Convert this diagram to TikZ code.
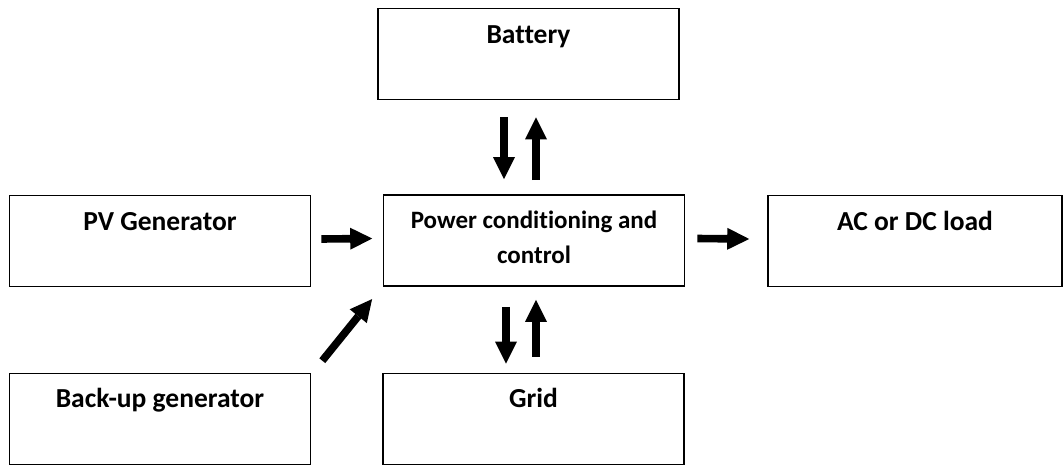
\documentclass[tikz,border=0pt]{standalone}
\usepackage{fontspec}
\setmainfont{Carlito}[Ligatures=NoCommon]
\usetikzlibrary{arrows.meta}
\begin{document}
\begin{tikzpicture}[x=1pt,y=-1pt,
  box/.style={draw,line width=1.6pt,inner sep=0pt,minimum width=301pt,minimum height=91pt},
  lbl/.style={font=\bfseries\fontsize{27.5}{32}\selectfont,anchor=base,inner sep=0pt},
  slbl/.style={lbl,font=\bfseries\fontsize{25}{30}\selectfont},
  bigarrow/.style={line width=7.6pt,-{Triangle[width=22pt,length=22pt,line width=0pt]}}]
\useasboundingbox (0,0) rectangle (1063,466);
\node[box] (bat)  at (528.5,54) {};
\node[box] (pv)   at (160,241) {};
\node[box] (pc)   at (534,240.5) {};
\node[box,minimum width=294pt] (load) at (915,241) {};
\node[box] (bug)  at (160,419) {};
\node[box] (grid) at (533.5,419) {};
\node[lbl] (tbat)  at ([yshift=-36pt]bat.north) {Battery};
\node[lbl] (tpv)   at ([yshift=-36pt]pv.north) {PV Generator};
\node[slbl] (tpc1)  at ([yshift=-34pt]pc.north) {Power conditioning and};
\node[slbl] (tpc2)  at ([yshift=-69pt]pc.north) {control};
\node[lbl] (tload) at ([yshift=-36pt]load.north) {AC or DC load};
\node[lbl] (tbug)  at ([yshift=-35pt]bug.north) {Back-up generator};
\node[lbl] (tgrid) at ([yshift=-35pt]grid.north) {Grid};
\draw[bigarrow] ([xshift=10pt,yshift=2pt]pv.east) -- ([xshift=-10.5pt,yshift=2pt]pc.west);
\draw[bigarrow] ([xshift=12pt,yshift=2pt]pc.east) -- ([xshift=-18pt,yshift=2pt]load.west);
\draw[bigarrow] ([xshift=-24.5pt,yshift=-17pt]bat.south) -- ([xshift=-30pt,yshift=15pt]pc.north);
\draw[bigarrow] ([xshift=2pt,yshift=14pt]pc.north) -- ([xshift=7.5pt,yshift=-17pt]bat.south);
\draw[bigarrow] ([xshift=-28pt,yshift=-20pt]pc.south) -- ([xshift=-27.5pt,yshift=9pt]grid.north);
\draw[bigarrow] ([xshift=2.5pt,yshift=16pt]grid.north) -- ([xshift=2pt,yshift=-13pt]pc.south);
\draw[bigarrow] ([xshift=11pt,yshift=12pt]bug.north east) -- ([xshift=-10.6pt,yshift=-12.3pt]pc.south west);
\end{tikzpicture}
\end{document}
